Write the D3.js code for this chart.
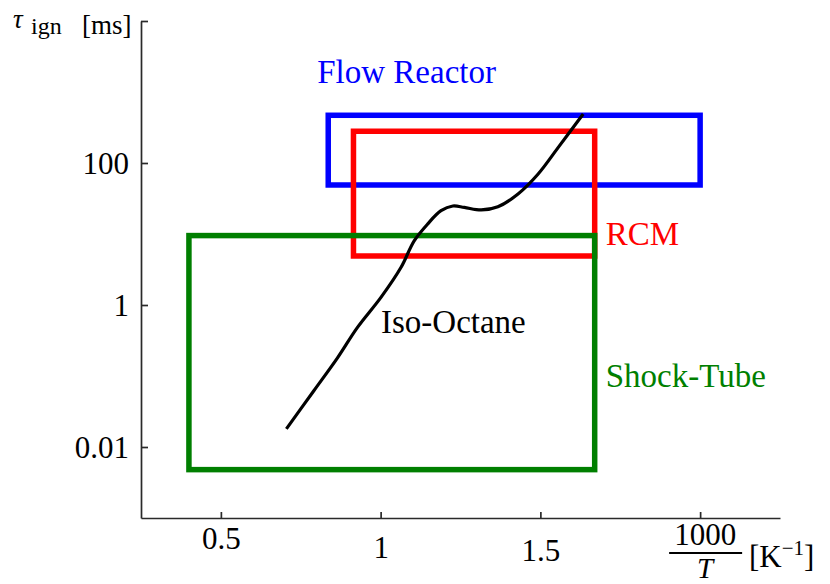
<!DOCTYPE html>
<html>
<head>
<meta charset="utf-8">
<script src="https://cdn.jsdelivr.net/npm/d3@7"></script>
<style>
    body { margin: 0; background: #fff; }
    .axis path, .axis line { stroke: #2a2a2a; stroke-width: 1.7px; }
    .box { fill: none; stroke-width: 5.5px; }
    .curve { fill: none; stroke: #000; stroke-width: 3.2px; }
</style>
</head>
<body>
<svg id="chart" width="830" height="584"></svg>
<script>
// experiment regimes (1000/T in 1/K, ignition delay in ms)
const boxNames = ["Flow Reactor", "RCM", "Shock-Tube"];
const boxColors = ["#0000ff", "#ff0000", "#007f00"];
const boxXmin = [0.836, 0.915, 0.4];
const boxXmax = [2.0, 1.67, 1.67];
const boxTmin = [49, 4.9, 0.0048];
const boxTmax = [470, 280, 9.5];

// iso-octane ignition delay curve
const curveX = [0.705, 0.791, 0.865, 0.927, 1.001, 1.064, 1.105, 1.147, 1.189, 1.226, 1.262, 1.315, 1.367, 1.430, 1.493, 1.556, 1.634];
const curveT = [0.018, 0.062, 0.18, 0.48, 1.28, 3.4, 8.0, 13.8, 21.3, 24.8, 23.7, 21.8, 24.2, 36.6, 70, 166, 490];

const xTicks = [0.5, 1, 1.5, 2];
const xTickLabels = ["0.5", "1", "1.5", ""];
const yTicks = [0.01, 1, 100, 10000];
const yTickLabels = ["0.01", "1", "100", ""];

const serif = '"Liberation Serif"';

const svg = d3.select("#chart");
const margin = { top: 21, right: 50, bottom: 66, left: 141 };
const width = 830 - margin.left - margin.right,
      height = 584 - margin.top - margin.bottom;

const x = d3.scaleLinear().domain([0.25, 2.25]).range([0, width]);
const y = d3.scaleLog().domain([0.001, 10000]).range([height, 0]);

const g = svg.append("g").attr("transform", `translate(${margin.left},${margin.top})`);

// axes, ticks pointing inward
const xAxis = g.append("g")
    .attr("class", "axis")
    .attr("transform", `translate(0,${height})`)
    .call(d3.axisBottom(x).tickValues(xTicks).tickSizeInner(-6).tickSizeOuter(0)
        .tickFormat((d, i) => xTickLabels[i]));
xAxis.attr("font-family", null).attr("font-size", null);
// labels sit at slightly different heights in the original
const xLabelBase = { 0.5: 31, 1: 40, 1.5: 43 };
xAxis.selectAll("text")
    .attr("dy", null)
    .attr("y", d => xLabelBase[d] || 40)
    .style("font-family", serif)
    .style("font-size", "31px")
    .style("fill", "#000");

const yAxis = g.append("g")
    .attr("class", "axis")
    .call(d3.axisLeft(y).tickValues(yTicks).tickSizeInner(-7).tickSizeOuter(0).tickPadding(12)
        .tickFormat((d, i) => yTickLabels[i]));
yAxis.attr("font-family", null).attr("font-size", null);
yAxis.selectAll("text")
    .attr("dy", 10)
    .style("font-family", serif)
    .style("font-size", "31px")
    .style("fill", "#000");

// regime boxes
const boxes = boxNames.map((name, i) => ({
    name: name, color: boxColors[i],
    x0: boxXmin[i], x1: boxXmax[i], t0: boxTmin[i], t1: boxTmax[i]
}));

g.selectAll("rect.box")
    .data(boxes)
    .enter()
    .append("rect")
    .attr("class", "box")
    .attr("x", d => x(d.x0))
    .attr("y", d => y(d.t1))
    .attr("width", d => x(d.x1) - x(d.x0))
    .attr("height", d => y(d.t0) - y(d.t1))
    .style("stroke", d => d.color);

// box labels
const label = (sel) => sel
    .style("font-family", serif)
    .style("font-size", "33px");

g.append("text").call(label)
    .attr("x", x(boxes[0].x0) - 11).attr("y", y(boxes[0].t1) - 32)
    .style("fill", boxes[0].color).text(boxes[0].name);
g.append("text").call(label)
    .attr("x", x(boxes[1].x1) + 11).attr("y", y(boxes[1].t0) - 11)
    .style("fill", boxes[1].color).text(boxes[1].name);
g.append("text").call(label)
    .attr("x", x(boxes[2].x1) + 11).attr("y", 366)
    .style("fill", boxes[2].color).text(boxes[2].name);

// curve
const line = d3.line()
    .x(d => x(d[0]))
    .y(d => y(d[1]))
    .curve(d3.curveCatmullRom.alpha(0.5));

g.append("path")
    .attr("class", "curve")
    .datum(curveX.map((v, i) => [v, curveT[i]]))
    .attr("d", line);

g.append("text").call(label)
    .attr("x", 240).attr("y", 312)
    .text("Iso-Octane");

// y axis title: tau_ign [ms]
svg.append("text").attr("x", 13).attr("y", 28)
    .style("font-family", serif).style("font-style", "italic").style("font-size", "27px")
    .text("τ");
svg.append("text").attr("x", 31).attr("y", 34)
    .style("font-family", serif).style("font-size", "24px")
    .text("ign");
svg.append("text").attr("x", 82).attr("y", 34)
    .style("font-family", serif).style("font-size", "27px")
    .text("[ms]");

// x axis title: 1000/T [K^-1]
const fx = margin.left + x(2) + 5;
svg.append("text").attr("x", fx).attr("y", 545).attr("text-anchor", "middle")
    .style("font-family", serif).style("font-size", "31px").text("1000");
svg.append("line").attr("x1", fx - 36).attr("x2", fx + 37).attr("y1", 553).attr("y2", 553)
    .style("stroke", "#000").style("stroke-width", 1.8);
svg.append("text").attr("x", fx).attr("y", 578).attr("text-anchor", "middle")
    .style("font-family", serif).style("font-size", "29px").style("font-style", "italic").text("T");
const kt = svg.append("text").attr("x", 749).attr("y", 567)
    .style("font-family", serif).style("font-size", "31px");
kt.append("tspan").text("[K");
kt.append("tspan").attr("dy", -12).style("font-size", "21px").text("−1");
kt.append("tspan").attr("dy", 12).text("]");
</script>
</body>
</html>
